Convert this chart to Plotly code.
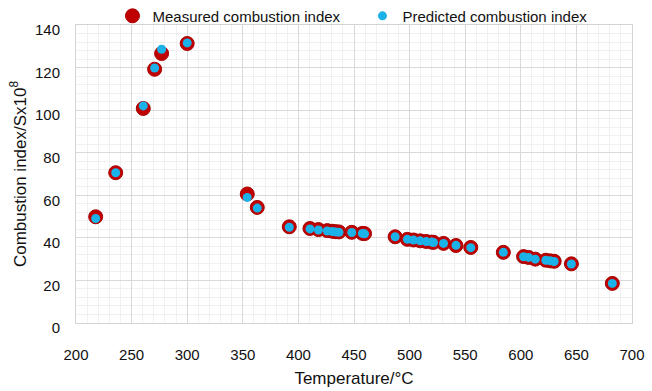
import plotly.graph_objects as go

temperature = [217.7, 235.7, 260.5, 270.7, 277.0, 300.0, 354.0, 363.0, 391.8,
               410.4, 418.0, 426.0, 430.5, 433.5, 436.5, 448.0, 457.5, 459.5,
               487.0, 498.0, 503.5, 509.5, 515.0, 520.0, 521.5, 530.5, 541.7, 555.0,
               584.3, 602.5, 607.0, 613.0, 622.5, 626.5, 630.0, 645.5, 682.3]
measured = [49.9, 70.6, 100.8, 119.2, 126.6, 131.3, 60.6, 54.3, 45.2,
            44.4, 43.9, 43.4, 43.1, 42.9, 42.8, 42.6, 42.1, 42.0,
            40.5, 39.3, 39.0, 38.6, 38.3, 38.0, 37.9, 37.4, 36.4, 35.5,
            33.2, 31.2, 30.8, 30.0, 29.5, 29.2, 29.0, 27.8, 18.6]
predicted = [49.1, 70.6, 102.0, 119.8, 128.6, 131.6, 59.0, 54.0, 45.0,
             44.2, 43.7, 43.2, 43.0, 42.8, 42.6, 42.5, 42.1, 41.9,
             40.5, 39.3, 39.0, 38.6, 38.3, 38.0, 37.8, 37.4, 36.5, 35.4,
             33.2, 31.1, 30.8, 30.0, 29.5, 29.2, 28.9, 27.7, 18.6]

FONT = "Liberation Sans, Arial, sans-serif"

fig = go.Figure()
fig.add_trace(go.Scatter(
    x=temperature, y=measured, mode="markers", name="Measured combustion index",
    marker=dict(color="#C00000", size=14, line=dict(color="#A80000", width=1)),
))
fig.add_trace(go.Scatter(
    x=temperature, y=predicted, mode="markers", name="Predicted combustion index",
    marker=dict(color="#1AB2E8", size=9, line=dict(width=0)),
))

fig.update_layout(
    width=652, height=391,
    margin=dict(l=76, r=20, t=25, b=68, autoexpand=False),
    paper_bgcolor="white", plot_bgcolor="white",
    font=dict(family=FONT, size=15, color="#111111"),
    showlegend=True,
    legend=dict(orientation="h", x=0.0656, xanchor="left", y=1.03, yanchor="middle",
                font=dict(size=15), bgcolor="rgba(0,0,0,0)", itemsizing="trace",
                entrywidth=205),
)
fig.update_xaxes(
    range=[200, 700], dtick=50, tick0=200,
    showgrid=True, gridcolor="#D9D9D9", gridwidth=1,
    minor=dict(dtick=10, showgrid=True, gridcolor="#F0F0F0", gridwidth=1),
    showline=True, linecolor="#D4D4D4", linewidth=1, mirror=True,
    zeroline=False, ticks="", ticklabelstandoff=18,
    tickfont=dict(size=15),
    title=dict(text="Temperature/°C", font=dict(size=17), standoff=10),
)
fig.update_yaxes(
    range=[0, 140], dtick=20, tick0=0,
    showgrid=True, gridcolor="#D9D9D9", gridwidth=1,
    minor=dict(dtick=4, showgrid=True, gridcolor="#F0F0F0", gridwidth=1),
    showline=True, linecolor="#D4D4D4", linewidth=1, mirror=True,
    zeroline=False, ticks="", ticklabelstandoff=12, ticklabelshift=5,
    tickfont=dict(size=15),
    title=dict(text="Combustion index/Sx10<sup>8</sup>", font=dict(size=17), standoff=4),
)

fig.write_html("out.html")
